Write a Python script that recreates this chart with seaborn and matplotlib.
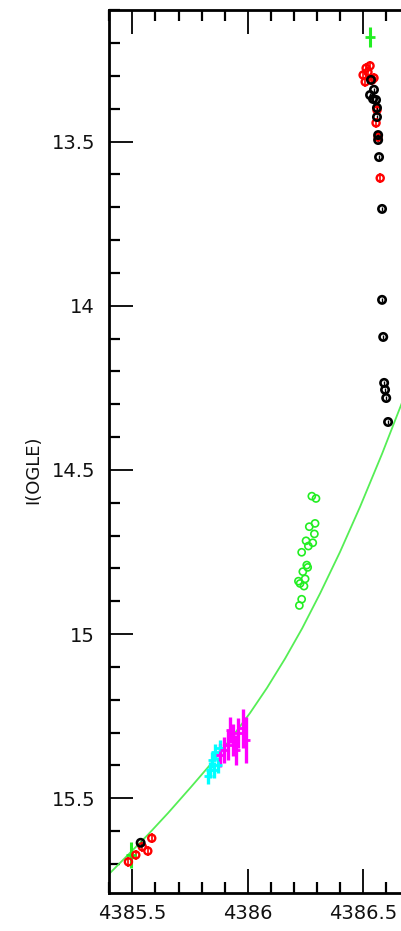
import numpy as np
import pandas as pd
import matplotlib
matplotlib.use("Agg")
import matplotlib.pyplot as plt
import seaborn as sns
from matplotlib.ticker import MultipleLocator, FuncFormatter

# ---- data (HJD-2450000, I mag) ----
model_x = [4385.395, 4385.481, 4385.568, 4385.655, 4385.754, 4385.836, 4385.923,
           4386.010, 4386.083, 4386.161, 4386.235, 4386.313, 4386.399, 4386.486,
           4386.581, 4386.663, 4386.724]
model_y = [15.734, 15.673, 15.611, 15.545, 15.466, 15.399, 15.322,
           15.240, 15.164, 15.075, 14.983, 14.876, 14.750, 14.612,
           14.451, 14.303, 14.190]

black_x = [4386.533, 4386.529, 4386.542, 4386.555, 4386.546, 4386.559, 4386.559,
           4386.564, 4386.564, 4386.568, 4386.581, 4386.581, 4386.586, 4386.590,
           4386.594, 4386.599, 4386.607, 4385.536]
black_y = [13.312, 13.358, 13.370, 13.373, 13.342, 13.397, 13.425,
           13.480, 13.495, 13.547, 13.705, 13.982, 14.095, 14.235,
           14.256, 14.281, 14.354, 15.636]

red_x = [4386.499, 4386.512, 4386.520, 4386.529, 4386.538, 4386.508, 4386.546,
         4386.555, 4386.559, 4386.564, 4386.573,
         4385.483, 4385.515, 4385.543, 4385.567, 4385.584]
red_y = [13.297, 13.276, 13.288, 13.269, 13.312, 13.318, 13.306,
         13.443, 13.404, 13.486, 13.611,
         15.694, 15.673, 15.648, 15.661, 15.622]

green_x = [4386.277, 4386.295, 4386.266, 4386.291, 4386.288, 4386.252, 4386.281,
           4386.262, 4386.233, 4386.255, 4386.259, 4386.238, 4386.248, 4386.219,
           4386.226, 4386.243, 4386.233, 4386.223]
green_y = [14.580, 14.587, 14.673, 14.663, 14.695, 14.716, 14.722,
           14.732, 14.751, 14.790, 14.797, 14.810, 14.832, 14.839,
           14.846, 14.854, 14.894, 14.913]

greenbar_x = [4386.529, 4385.494]
greenbar_y = [13.181, 15.673]
greenbar_e = [0.030, 0.040]

magenta_x = [4385.979, 4385.992, 4385.958, 4385.936, 4385.914, 4385.897, 4385.880,
             4385.949, 4385.923]
magenta_y = [15.287, 15.323, 15.302, 15.323, 15.338, 15.353, 15.369, 15.353, 15.292]
magenta_e = [0.060, 0.070, 0.045, 0.050, 0.045, 0.040, 0.035, 0.045, 0.040]

cyan_x = [4385.858, 4385.845, 4385.871, 4385.836, 4385.828, 4385.854, 4385.880]
cyan_y = [15.359, 15.384, 15.399, 15.414, 15.432, 15.414, 15.347]
cyan_e = [0.025, 0.025, 0.025, 0.025, 0.025, 0.025, 0.025]

xticks = [4385.5, 4386.0, 4386.5]
yticks = [13.5, 14.0, 14.5, 15.0, 15.5]

# ---- plot ----
sns.set_style("ticks")
plt.rcParams['font.family'] = ['DejaVu Sans']

fig = plt.figure(figsize=(4.01, 9.31), dpi=100)
ax = fig.add_axes([109 / 401, 1 - 892.7 / 931, 1 - 109 / 401, (892.7 - 10) / 931])

sns.lineplot(x=model_x, y=model_y, ax=ax, color="#55ee55", lw=1.3, sort=False,
             estimator=None, zorder=1)

def err_group(xs, ys, es, color, lw, cap=0, ms=0, marker="none", mew=1.0, mfc="none"):
    ax.errorbar(xs, ys, yerr=es, fmt=marker, color=color, ecolor=color, elinewidth=lw,
                capsize=cap, ms=ms, mew=mew, mfc=mfc, zorder=3)

err_group(cyan_x, cyan_y, cyan_e, "#00ffff", 2.4, marker="+", ms=6, mew=2)
err_group(magenta_x, magenta_y, magenta_e, "#ff00ff", 2.4, marker="+", ms=6, mew=2)
err_group(greenbar_x, greenbar_y, greenbar_e, "#22ee22", 2.2, marker="+", ms=7, mew=2)
err_group(red_x, red_y, [0.015] * len(red_x), "#ff0000", 1.2)
err_group(black_x, black_y, [0.006] * len(black_x), "#000000", 1.0)

sns.scatterplot(x=green_x, y=green_y, ax=ax, marker="o", s=26, facecolor="none",
                edgecolor="#22ee22", linewidth=1.2, zorder=4)
sns.scatterplot(x=red_x, y=red_y, ax=ax, marker="o", s=26, facecolor="none",
                edgecolor="#ff0000", linewidth=1.7, zorder=4)
sns.scatterplot(x=black_x, y=black_y, ax=ax, marker="o", s=28, facecolor="none",
                edgecolor="#000000", linewidth=1.9, zorder=5)

ax.set_xlim(4385.399, 4386.663)
ax.set_ylim(15.788, 13.099)

ax.xaxis.set_major_locator(MultipleLocator(0.5))
ax.xaxis.set_minor_locator(MultipleLocator(0.1))
ax.yaxis.set_major_locator(MultipleLocator(0.5))
ax.yaxis.set_minor_locator(MultipleLocator(0.1))
ax.set_xticks(xticks)
ax.set_yticks(yticks)
fmt = FuncFormatter(lambda v, p: f"{v:g}")
ax.xaxis.set_major_formatter(fmt)
ax.yaxis.set_major_formatter(fmt)

ax.tick_params(which="both", direction="in", top=True, right=False, bottom=True, left=True,
               color="black", labelsize=14, labelcolor="#111111")
ax.tick_params(which="major", length=17, width=1.3)
ax.tick_params(which="minor", length=8, width=1.6)
ax.tick_params(axis="y", pad=10)
ax.tick_params(axis="x", pad=8)

for s in ["left", "bottom", "top"]:
    ax.spines[s].set_linewidth(2)
    ax.spines[s].set_color("black")
ax.spines["right"].set_visible(False)

ax.set_xlabel("")
ax.set_ylabel("I(OGLE)", fontsize=13, color="#111111")
ax.yaxis.set_label_coords(-0.229, 0.479)

fig.savefig("out.png", dpi=100)
